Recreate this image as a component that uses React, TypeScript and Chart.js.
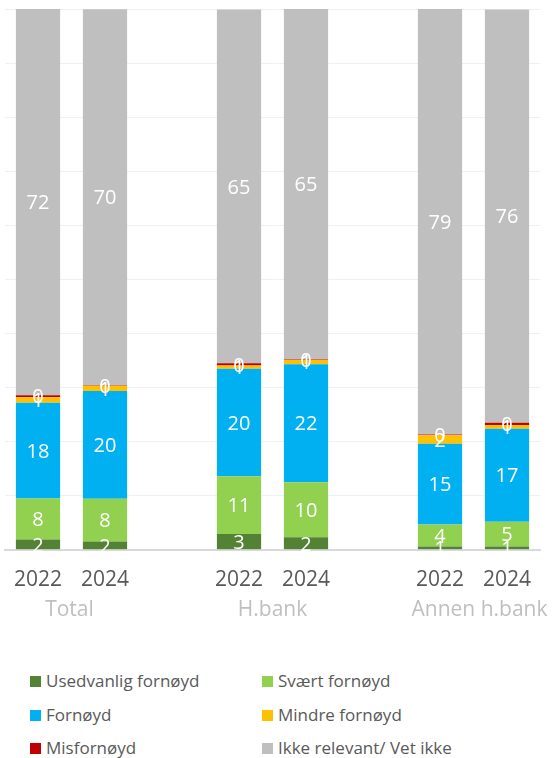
import React, { useEffect, useRef } from "react";
import { Chart, registerables } from "chart.js";

Chart.register(...registerables);

const categories = ["2022", "2024", "", "2022", "2024", "", "2022", "2024"];
const groupLabels = ["Total", "H.bank", "Annen h.bank"];
const groupPairs = [[0, 1], [3, 4], [6, 7]];

const seriesNames = [
  "Usedvanlig fornøyd",
  "Svært fornøyd",
  "Fornøyd",
  "Mindre fornøyd",
  "Misfornøyd",
  "Ikke relevant/ Vet ikke",
];
const seriesColors = ["#548235", "#92d050", "#00b0f0", "#ffc000", "#c00000", "#bfbfbf"];

const usedvanlig = [1.9, 1.55, null, 2.9, 2.3, null, 0.6, 0.6];
const svaert = [7.6, 7.9, null, 10.7, 10.2, null, 4.1, 4.6];
const fornoyd = [17.7, 19.9, null, 19.9, 21.8, null, 14.9, 17.2];
const mindre = [1.0, 1.0, null, 0.6, 0.8, null, 1.6, 0.7];
const misfornoyd = [0.4, 0.1, null, 0.4, 0.1, null, 0.1, 0.4];
const ikke = [71.6, 69.5, null, 65.4, 64.8, null, 78.7, 76.4];

const seriesValues = [usedvanlig, svaert, fornoyd, mindre, misfornoyd, ikke];

const FONT = "'Open Sans', 'Noto Sans', sans-serif";
const GROUP_NUDGE = [-2, 0, 6];

const labelPlugin = {
  id: "segLabels",
  afterDatasetsDraw(chart: any) {
    const ctx = chart.ctx;
    ctx.save();
    ctx.fillStyle = "#ffffff";
    ctx.font = `20px ${FONT}`;
    ctx.textAlign = "center";
    ctx.textBaseline = "middle";
    chart.data.datasets.forEach((ds: any, di: number) => {
      const meta = chart.getDatasetMeta(di);
      meta.data.forEach((el: any, i: number) => {
        const v = ds.data[i];
        if (v === null || v === undefined) return;
        const top = Math.max(el.y, chart.chartArea.top);
        const y = (top + el.base) / 2 + 1.5;
        ctx.fillText(String(Math.round(v)), el.x, y);
      });
    });
    ctx.restore();
  },
};

const groupPlugin = {
  id: "groupLabels",
  afterDraw(chart: any) {
    const ctx = chart.ctx;
    const xs = chart.scales.x;
    ctx.save();
    ctx.fillStyle = "#bfbfbf";
    ctx.font = `21px ${FONT}`;
    ctx.textAlign = "center";
    ctx.textBaseline = "middle";
    groupPairs.forEach((p, gi) => {
      const x = (xs.getPixelForValue(p[0]) + xs.getPixelForValue(p[1])) / 2 + GROUP_NUDGE[gi];
      ctx.fillText(groupLabels[gi], x, chart.chartArea.bottom + 60);
    });
    ctx.restore();
  },
};

export default function App() {
  const ref = useRef<HTMLCanvasElement>(null);
  useEffect(() => {
    if (!ref.current) return;
    const chart = new Chart(ref.current, {
      type: "bar",
      data: {
        labels: categories,
        datasets: seriesNames.map((n, i) => ({
          label: n,
          data: seriesValues[i] as any,
          backgroundColor: seriesColors[i],
          borderWidth: 0,
          barPercentage: 0.66,
          categoryPercentage: 1,
        })),
      },
      options: {
        animation: false,
        responsive: false,
        maintainAspectRatio: false,
        layout: { padding: { left: 4.5, right: 14.5, top: 9, bottom: 30 } },
        plugins: { legend: { display: false }, tooltip: { enabled: false } },
        scales: {
          x: {
            stacked: true,
            afterFit: (s: any) => {
              s.paddingLeft = 0;
              s.paddingRight = 0;
            },
            grid: { display: false, drawTicks: false },
            border: { color: "#d9d9d9", width: 2 },
            ticks: { color: "#595959", font: { size: 21, family: FONT }, padding: 18, autoSkip: false, maxRotation: 0 },
          },
          y: {
            stacked: true,
            min: 0,
            max: 100,
            afterFit: (s: any) => {
              s.width = 0;
            },
            ticks: { display: false, stepSize: 10 },
            grid: { color: "#f0f0f0", drawTicks: false },
            border: { display: false },
          },
        },
      },
      plugins: [labelPlugin, groupPlugin],
    });
    return () => chart.destroy();
  }, []);

  const legendItem = (i: number, left: number, top: number) => (
    <div
      key={i}
      style={{
        position: "absolute",
        left,
        top,
        display: "flex",
        alignItems: "center",
        fontFamily: FONT,
        fontSize: 17,
        color: "#595959",
        whiteSpace: "nowrap",
        lineHeight: "20px",
      }}
    >
      <span style={{ display: "inline-block", width: 11, height: 11, background: seriesColors[i], marginRight: 5 }} />
      <span>{seriesNames[i]}</span>
    </div>
  );

  return (
    <div style={{ position: "absolute", left: 0, top: 0, width: 555, height: 758, background: "#fff", overflow: "hidden" }}>
      <canvas ref={ref} width={555} height={641} style={{ position: "absolute", left: 0, top: 0 }} />
      {legendItem(0, 30, 671)}
      {legendItem(1, 262, 671)}
      {legendItem(2, 30, 705)}
      {legendItem(3, 262, 705)}
      {legendItem(4, 30, 738)}
      {legendItem(5, 262, 738)}
    </div>
  );
}
